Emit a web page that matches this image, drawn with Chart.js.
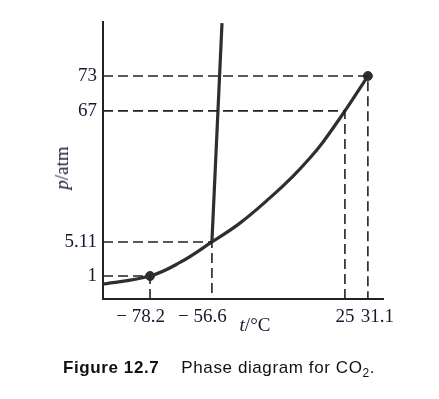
<!DOCTYPE html>
<html>
<head>
<meta charset="utf-8">
<script src="https://cdn.jsdelivr.net/npm/chart.js@4/dist/chart.umd.min.js"></script>
<style>
  body { margin: 0; background: #fff; }
  #wrap { position: relative; width: 439px; height: 399px; }
  #chart { position: absolute; left: 0; top: 0; }
  .lbl { position: absolute; font-family: "Liberation Serif", serif; font-size: 19px; color: #161830; white-space: nowrap; }
  #ytitle { left: 62px; top: 168px; transform: translate(-50%, -50%) rotate(-90deg); }
  #xtitle { left: 255px; top: 325px; transform: translate(-50%, -50%); }
  #caption { position: absolute; left: 63px; top: 358px; font-family: "Liberation Sans", Arial, sans-serif; font-size: 17px; letter-spacing: 0.6px; color: #111; white-space: nowrap; }
  #caption b { margin-right: 22px; }
</style>
</head>
<body>
<div id="wrap">
  <canvas id="chart" width="439" height="399"></canvas>
  <div class="lbl" id="ytitle"><i>p</i>/atm</div>
  <div class="lbl" id="xtitle"><i>t</i>/°C</div>
  <div id="caption"><b>Figure 12.7</b>Phase diagram for CO<sub style="font-size:12px">2</sub>.</div>
</div>
<script>
// diagrama esquemático (fora de escala): posições em unidades 0..100 nos dois eixos
const tempLabels = ['\u2212 78.2\u2002\u2002', '\u2212 56.6\u2002\u2002', '25', '\u2002\u200231.1'];
const tempPos = [16.8, 38.9, 86.4, 94.6];
const pressLabels = ['1', '5.11', '67', '73'];
const pressPos = [8.3, 20.6, 67.9, 80.5];

// curva sublimação / vaporização
const vapourX = [0, 16.8, 27.5, 38.9, 48.9, 59.6, 67.9, 73.9, 78.6, 86.4, 94.6];
const vapourY = [5.4, 8.3, 13.2, 20.6, 27.4, 36.5, 44.4, 50.9, 56.7, 67.9, 80.5];

// curva de fusão (sólido-líquido)
const fusionX = [38.9, 42.5];
const fusionY = [20.6, 99.6];

// pontos marcados: (-78.2, 1) e ponto crítico (31.1, 73)
const markX = [16.8, 94.6];
const markY = [8.3, 80.5];

// linhas tracejadas: pares (temperatura, pressão) por índice
const guideT = [0, 1, 2, 3];
const guideP = [0, 1, 2, 3];

const ink = '#2e2e2e';
const datasets = [];

guideT.forEach(function (ti, k) {
    const x = tempPos[ti], y = pressPos[guideP[k]];
    datasets.push({
        data: [{ x: 0, y: y }, { x: x, y: y }, { x: x, y: 0 }],
        showLine: true,
        borderColor: '#222',
        borderWidth: 1.6,
        borderDash: [10, 5],
        pointRadius: 0,
        fill: false
    });
});

datasets.push({
    data: vapourX.map(function (x, i) { return { x: x, y: vapourY[i] }; }),
    showLine: true,
    borderColor: ink,
    borderWidth: 3.2,
    pointRadius: 0,
    tension: 0.4,
    fill: false
});

datasets.push({
    data: fusionX.map(function (x, i) { return { x: x, y: fusionY[i] }; }),
    showLine: true,
    borderColor: ink,
    borderWidth: 3.2,
    pointRadius: 0,
    fill: false
});

datasets.push({
    data: markX.map(function (x, i) { return { x: x, y: markY[i] }; }),
    showLine: false,
    pointRadius: 4.5,
    pointBackgroundColor: ink,
    pointBorderColor: ink
});

const tickFont = { family: 'Liberation Serif', size: 19 };

new Chart(document.getElementById('chart').getContext('2d'), {
    type: 'scatter',
    data: { datasets: datasets },
    options: {
        responsive: false,
        animation: false,
        devicePixelRatio: 1,
        layout: { padding: { top: 22, right: 56, left: 0, bottom: 0 } },
        plugins: { legend: { display: false }, tooltip: { enabled: false } },
        elements: { line: { borderCapStyle: 'butt' } },
        scales: {
            x: {
                type: 'linear', min: 0, max: 100,
                afterFit: function (s) { s.height = 100; },
                afterBuildTicks: function (s) { s.ticks = tempPos.map(function (v) { return { value: v }; }); },
                ticks: {
                    autoSkip: false, maxRotation: 0, padding: 7, color: '#161830', font: tickFont,
                    callback: function (v, i) { return tempLabels[i]; }
                },
                grid: { display: false, drawTicks: false, tickLength: 0 },
                border: { display: true, color: '#222', width: 2 }
            },
            y: {
                type: 'linear', min: 0, max: 100,
                afterFit: function (s) { s.width = 103; },
                afterBuildTicks: function (s) { s.ticks = pressPos.map(function (v) { return { value: v }; }); },
                ticks: {
                    autoSkip: false, padding: 6, color: '#161830', font: tickFont,
                    callback: function (v, i) { return pressLabels[i]; }
                },
                grid: { display: false, drawTicks: false, tickLength: 0 },
                border: { display: true, color: '#222', width: 2 }
            }
        }
    }
});
</script>
</body>
</html>
